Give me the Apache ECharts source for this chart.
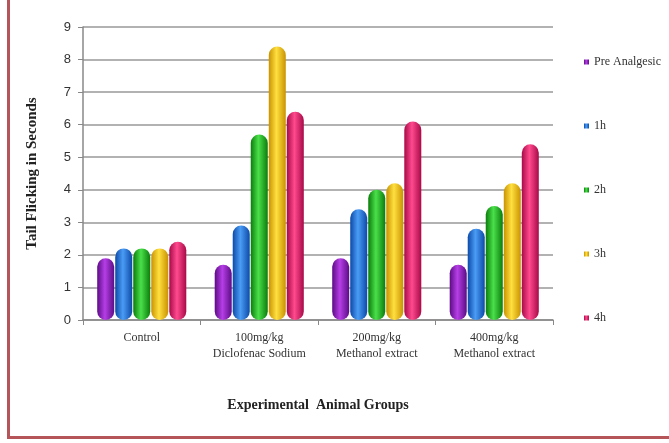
<!DOCTYPE html>
<html>
<head>
<meta charset="utf-8">
<script src="https://cdn.jsdelivr.net/npm/echarts@6/dist/echarts.min.js"></script>
<style>
  html, body { margin: 0; padding: 0; background: #fff; }
  #frame {
    position: absolute; left: 7px; top: -4px; width: 680px; height: 440px;
    border-left: 3px solid #b5555a; border-bottom: 3px solid #b5555a;
  }
  #tailChart { position: absolute; left: 0; top: 0; width: 669px; height: 443px; }
</style>
</head>
<body>
<div id="frame"></div>
<div id="tailChart"></div>
<script>
// 分组和时间点
var groups = ['Control', '100mg/kg\nDiclofenac Sodium', '200mg/kg\nMethanol extract', '400mg/kg\nMethanol extract'];
var seriesNames = ['Pre Analgesic', '1h', '2h', '3h', '4h'];
var preAnalgesic = [1.9, 1.7, 1.9, 1.7];
var hour1 = [2.2, 2.9, 3.4, 2.8];
var hour2 = [2.2, 5.7, 4.0, 3.5];
var hour3 = [2.2, 8.4, 4.2, 4.2];
var hour4 = [2.4, 6.4, 6.1, 5.4];
var yTicks = [0, 9, 1]; // min, max, interval

var values = [preAnalgesic, hour1, hour2, hour3, hour4];
// edge / middle colours for the glossy capsule look
var colors = [
  ['#5c0c86', '#b63ee6', '#8e1bbf'],
  ['#0c4aa8', '#4a9cf5', '#1a6fd8'],
  ['#0b7d0b', '#4ae04a', '#19b419'],
  ['#c99200', '#ffe040', '#f2c200'],
  ['#a80a48', '#ff4a8e', '#e6146a']
];

function capsule(c) {
  return new echarts.graphic.LinearGradient(0, 0, 1, 0, [
    { offset: 0, color: c[0] },
    { offset: 0.45, color: c[1] },
    { offset: 1, color: c[0] }
  ]);
}

var series = seriesNames.map(function (name, i) {
  return {
    name: name,
    type: 'bar',
    barWidth: 17,
    barGap: '6%',
    data: values[i],
    itemStyle: { color: capsule(colors[i]), borderRadius: 9 }
  };
});

var serif = '"Liberation Serif", "DejaVu Serif", serif';

var chart = echarts.init(document.getElementById('tailChart'));
chart.setOption({
  animation: false,
  color: colors.map(function (c) { return c[2]; }),
  grid: { left: 83, right: 116, top: 27, bottom: 123 },
  legend: {
    orient: 'vertical',
    left: 579,
    top: 51,
    itemWidth: 5,
    itemHeight: 5,
    itemGap: 52,
    icon: 'rect',
    textStyle: { fontFamily: serif, fontSize: 12, color: '#333' },
    data: seriesNames
  },
  xAxis: {
    type: 'category',
    data: groups,
    name: 'Experimental  Animal Groups',
    nameLocation: 'middle',
    nameGap: 78,
    nameTextStyle: { fontFamily: serif, fontSize: 14, fontWeight: 'bold', color: '#222' },
    axisLine: { lineStyle: { color: '#888', width: 1.5 } },
    axisTick: { show: true, interval: 0, length: 5, lineStyle: { color: '#888' } },
    axisLabel: { interval: 0, fontFamily: serif, fontSize: 12, color: '#333', lineHeight: 16, margin: 10 }
  },
  yAxis: {
    type: 'value',
    min: yTicks[0],
    max: yTicks[1],
    interval: yTicks[2],
    name: 'Tail Flicking in Seconds',
    nameLocation: 'middle',
    nameGap: 43,
    nameTextStyle: { fontFamily: serif, fontSize: 15, fontWeight: 'bold', color: '#222' },
    axisLine: { show: true, lineStyle: { color: '#888', width: 1.5 } },
    axisTick: { show: true, length: 5, lineStyle: { color: '#888' } },
    axisLabel: { fontFamily: '"Liberation Sans", sans-serif', fontSize: 13, color: '#333', margin: 12 },
    splitLine: { lineStyle: { color: '#999', width: 1.5 } }
  },
  series: series
});
</script>
</body>
</html>
